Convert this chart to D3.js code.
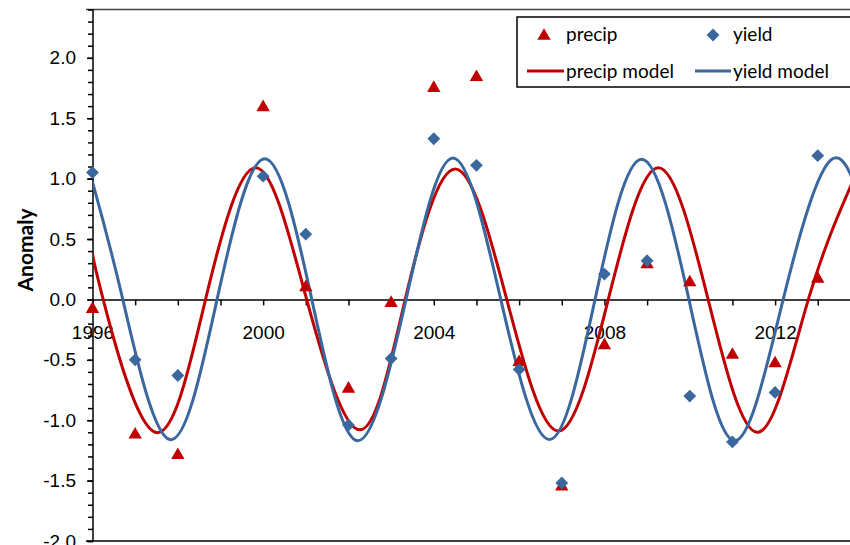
<!DOCTYPE html>
<html>
<head>
<meta charset="UTF-8">
<title>Anomaly</title>
<script src="https://cdn.jsdelivr.net/npm/d3@7/dist/d3.min.js"></script>
<style>
  body { margin: 0; background: #fff; }
  svg { display: block; font-family: Lato, "Open Sans", sans-serif; }
  .tick text { font-size: 19px; fill: #000; }
</style>
</head>
<body>
<script>
// observed values per year (null = no point)
var years = [1996,1997,1998,1999,2000,2001,2002,2003,2004,2005,2006,2007,2008,2009,2010,2011,2012,2013];
var precip = [-0.08,-1.12,-1.29,null,1.59,0.10,-0.74,-0.03,1.75,1.84,-0.52,-1.55,-0.38,0.29,0.14,-0.46,-0.53,0.17];
var yieldObs = [1.05,-0.50,-0.63,null,1.02,0.54,-1.04,-0.49,1.33,1.11,-0.58,-1.52,0.21,0.32,-0.80,-1.18,-0.77,1.19];

// model curves: read at peaks, troughs and zero crossings
var precipModel = [[1996,0.39],[1996.25,0],[1997.47,-1.10],[1998.65,0],[1999.83,1.09],[2001.02,0],[2002.27,-1.08],
  [2003.33,0],[2004.5,1.08],[2005.71,0],[2006.92,-1.09],[2008.09,0],[2009.26,1.09],[2010.43,0],[2011.61,-1.10],
  [2012.78,0],[2013.95,1.08]];
var yieldModel = [[1996,0.97],[1996.71,0],[1997.81,-1.16],[1998.92,0],[2000.04,1.165],[2001.14,0],[2002.22,-1.17],
  [2003.35,0],[2004.45,1.17],[2005.57,0],[2006.71,-1.16],[2007.78,0],[2008.87,1.16],[2009.98,0],[2011.06,-1.17],
  [2012.19,0],[2013.33,1.16],[2014.2,0.55]];

var yMajor = [-2.0,-1.5,-1.0,-0.5,0.0,0.5,1.0,1.5,2.0];
var xLabelYears = [1996,2000,2004,2008,2012];

var w = 850, h = 545;
var red = "#C00000", blue = "#3A679E";

var x = d3.scaleLinear().domain([1996, 2014]).range([92.5, 860.4]);
var y = d3.scaleLinear().domain([-2, 2.4]).range([541, 9.5]);

var svg = d3.select("body").append("svg").attr("width", w).attr("height", h);

svg.append("clipPath").attr("id", "plot")
  .append("rect").attr("x", 93).attr("y", 9).attr("width", 800).attr("height", 533);

// plot area border top / bottom
svg.append("line").attr("x1", 86).attr("x2", w).attr("y1", y(2.4)).attr("y2", y(2.4))
  .attr("stroke", "#404040").attr("stroke-width", 1.5);
svg.append("line").attr("x1", 86).attr("x2", w).attr("y1", y(-2)).attr("y2", y(-2))
  .attr("stroke", "#404040").attr("stroke-width", 2);

// y axis, minor ticks every 0.1
var minor = d3.range(-20, 25).map(function(d){ return d / 10; });
svg.append("g")
  .attr("transform", "translate(93,0)")
  .call(d3.axisLeft(y).tickValues(minor).tickSize(5).tickFormat(""))
  .call(function(g){ g.select(".domain").remove(); g.selectAll("line").attr("stroke", "#000").attr("stroke-width", 1.5); });

svg.append("g")
  .attr("transform", "translate(93,0)")
  .call(d3.axisLeft(y).tickValues(yMajor).tickSize(6).tickPadding(11).tickFormat(d3.format(".1f")))
  .call(function(g){
    g.select(".domain").remove();
    g.selectAll("line").attr("stroke", "#000").attr("stroke-width", 1.5);
    g.selectAll("text").text(function(d){ return d3.format(".1f")(d).replace("−", "-"); });
  });

svg.append("line").attr("x1", 93).attr("x2", 93).attr("y1", y(2.4)).attr("y2", y(-2))
  .attr("stroke", "#000").attr("stroke-width", 1.5);

// x axis at zero
var xTicks = d3.range(1996, 2015);
svg.append("g")
  .attr("transform", "translate(0," + y(0) + ")")
  .call(d3.axisBottom(x).tickValues(xTicks).tickSize(6).tickPadding(20)
    .tickFormat(function(d){ return xLabelYears.indexOf(d) >= 0 ? d : ""; }))
  .call(function(g){
    g.select(".domain").attr("stroke", "#000").attr("stroke-width", 1.5);
    g.selectAll("line").attr("stroke", "#000").attr("stroke-width", 1.5);
  });

// y label
svg.append("text")
  .attr("transform", "translate(33,250) rotate(-90)")
  .attr("text-anchor", "middle")
  .attr("font-size", "21px").attr("font-weight", "bold")
  .text("Anomaly");

// model lines
var line = d3.line()
  .x(function(d){ return x(d[0]); })
  .y(function(d){ return y(d[1]); })
  .curve(d3.curveNatural);

var lines = svg.append("g").attr("clip-path", "url(#plot)");
lines.append("path").datum(precipModel).attr("d", line)
  .attr("fill", "none").attr("stroke", red).attr("stroke-width", 3);
lines.append("path").datum(yieldModel).attr("d", line)
  .attr("fill", "none").attr("stroke", blue).attr("stroke-width", 3);

// markers
var tri = d3.symbol().type(d3.symbolTriangle).size(78);
var dia = d3.symbol().type(d3.symbolSquare).size(82);

svg.append("g").selectAll("path")
  .data(years.map(function(yr, i){ return [yr, precip[i]]; }).filter(function(d){ return d[1] !== null; }))
  .enter().append("path")
  .attr("d", tri)
  .attr("transform", function(d){ return "translate(" + x(d[0]) + "," + y(d[1]) + ")"; })
  .attr("fill", red);

svg.append("g").selectAll("path")
  .data(years.map(function(yr, i){ return [yr, yieldObs[i]]; }).filter(function(d){ return d[1] !== null; }))
  .enter().append("path")
  .attr("d", dia)
  .attr("transform", function(d){ return "translate(" + x(d[0]) + "," + y(d[1]) + ") rotate(45)"; })
  .attr("fill", blue);

// legend
var lg = svg.append("g");
lg.append("rect").attr("x", 517).attr("y", 17).attr("width", 360).attr("height", 70)
  .attr("fill", "#fff").attr("stroke", "#000").attr("stroke-width", 1.5);
lg.append("path").attr("d", tri).attr("transform", "translate(544,36)").attr("fill", red);
lg.append("path").attr("d", dia).attr("transform", "translate(713,35) rotate(45)").attr("fill", blue);
lg.append("line").attr("x1", 527).attr("x2", 564).attr("y1", 71).attr("y2", 71).attr("stroke", red).attr("stroke-width", 3);
lg.append("line").attr("x1", 695).attr("x2", 731).attr("y1", 71).attr("y2", 71).attr("stroke", blue).attr("stroke-width", 3);
var legendText = [["precip", 566, 41], ["yield", 733, 41], ["precip model", 566, 78], ["yield model", 733, 78]];
lg.selectAll("text").data(legendText).enter().append("text")
  .attr("x", function(d){ return d[1]; }).attr("y", function(d){ return d[2]; })
  .attr("font-size", "19px").attr("fill", "#000")
  .text(function(d){ return d[0]; });
</script>
</body>
</html>
